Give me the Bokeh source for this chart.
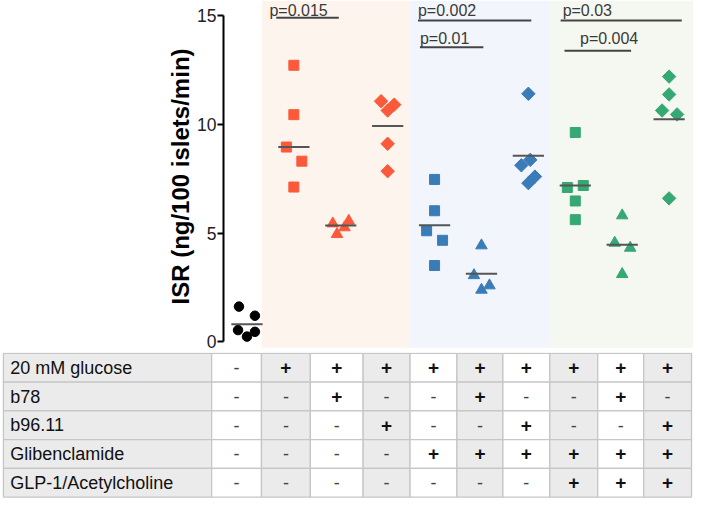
from bokeh.plotting import figure
from bokeh.models import Range1d, FixedTicker
from bokeh.layouts import column
from bokeh.embed import file_html
from bokeh.resources import INLINE
from bokeh.core.properties import value

# ---------------- data ----------------
ctrl      = [1.62, 1.20, 0.54, 0.24, 0.46]
glc       = [12.72, 10.45, 8.96, 8.31, 7.12]
glc_b78   = [5.44, 5.56, 4.95, 5.26]
glc_b96   = [11.07, 10.91, 10.64, 9.11, 7.85]
glib      = [7.47, 6.03, 5.11, 4.67, 3.51]
glib_b78  = [4.43, 3.06, 2.59, 2.39]
glib_b96  = [11.41, 8.37, 8.12, 7.60, 7.30]
glp       = [9.63, 7.10, 7.19, 6.48, 5.62]
glp_b78   = [5.81, 4.55, 4.32, 3.11]
glp_b96   = [12.20, 11.38, 10.64, 10.46, 6.60]
group_means = [0.81, 8.96, 5.35, 9.93, 5.36, 3.13, 8.56, 7.19, 4.47, 10.24]

p_labels = ["p=0.015", "p=0.002", "p=0.01", "p=0.03", "p=0.004"]
p_pairs = [(1, 2), (4, 6), (4, 5), (7, 9), (7, 8)]

y_ticks = [0, 5, 10, 15]
y_label = "ISR (ng/100 islets/min)"

row_labels = ["20 mM glucose", "b78", "b96.11", "Glibenclamide", "GLP-1/Acetylcholine"]
row_glucose = ["-", "+", "+", "+", "+", "+", "+", "+", "+", "+"]
row_b78     = ["-", "-", "+", "-", "-", "+", "-", "-", "+", "-"]
row_b96     = ["-", "-", "-", "+", "-", "-", "+", "-", "-", "+"]
row_glib    = ["-", "-", "-", "-", "+", "+", "+", "+", "+", "+"]
row_glp     = ["-", "-", "-", "-", "-", "-", "-", "+", "+", "+"]

# ---------------- layout / style ----------------
SX = 693 / 709
SY = 499 / 515
FONT = value("Liberation Sans")

groups = [ctrl, glc, glc_b78, glc_b96, glib, glib_b78, glib_b96, glp, glp_b78, glp_b96]
jitter = [
    [-0.17, 0.17, -0.19, 0.0, 0.17],
    [0.0, 0.0, -0.16, 0.17, 0.0],
    [-0.17, 0.17, -0.08, 0.08],
    [-0.14, 0.14, 0.0, 0.0, 0.0],
    [0.0, 0.0, -0.17, 0.17, 0.0],
    [0.0, -0.16, 0.17, 0.0],
    [0.0, 0.04, -0.15, 0.14, 0.0],
    [0.0, -0.17, 0.17, 0.0, 0.0],
    [0.0, -0.16, 0.17, 0.0],
    [0.0, 0.0, -0.15, 0.17, 0.0],
]
ORANGE, BLUE, GREEN = "#FA5A3A", "#3A7CB8", "#35A873"
colors = ["#000000", ORANGE, ORANGE, ORANGE, BLUE, BLUE, BLUE, GREEN, GREEN, GREEN]
shapes = ["circle", "square", "triangle", "diamond"] + ["square", "triangle", "diamond"] * 2

def px_to_u(px):
    return (px - 252.0) / 48.0

SPLIT = 363  # reference pixel row where the plot ends and the table begins
H1 = round(SPLIT * SY)
H2 = 499 - H1
W = 693
Y_BOTTOM = (352 - SPLIT) / 22.42
Y_TOP = 352 / 22.42
BAND_BOTTOM = (352 - 358) / 22.42

p = figure(width=W, height=H1, x_range=Range1d(-0.5, 9.52), y_range=Range1d(Y_BOTTOM, Y_TOP),
           output_backend="svg", toolbar_location=None, x_axis_location=None,
           min_border_left=round(228 * SX), min_border_right=0, min_border_top=0, min_border_bottom=0)
p.frame_align = False
p.grid.visible = False
p.outline_line_color = None

# shaded bands
band_px = [267, 419, 562, 709]
p.quad(left=[px_to_u(v) for v in band_px[:-1]], right=[px_to_u(v) for v in band_px[1:]],
       bottom=BAND_BOTTOM, top=Y_TOP, fill_color=["#FDF4EE", "#F2F5FB", "#F5F8F0"], line_color=None)

# points
for i, (vals, jit) in enumerate(zip(groups, jitter)):
    xs = [i + j for j in jit]
    shp = shapes[i]
    if shp == "diamond":
        p.scatter(xs, vals, marker="square", size=9.5, angle=0.785398, color=colors[i])
    elif shp == "triangle":
        p.scatter(xs, vals, marker="triangle", size=11.5, color=colors[i])
    elif shp == "square":
        p.scatter(xs, vals, marker="square", size=10, color=colors[i])
    else:
        p.scatter(xs, vals, marker="circle", size=9.5, color=colors[i])

# mean bars
p.segment(x0=[i - 0.333 for i in range(10)], x1=[i + 0.333 for i in range(10)],
          y0=group_means, y1=group_means, line_color="#555555", line_width=2)

# significance brackets
line_off = [(-0.375, -0.042), (-0.354, 0.0625), (-0.3125, 0.04), (-0.3125, 0.27), (-0.23, 0.19)]
text_off = [-0.521, -0.354, -0.3125, -0.27, 0.10]
line_y = [14.91, 14.78, 13.55, 14.78, 13.39]
text_y = [15.22, 15.25, 13.93, 15.25, 13.93]
p.segment(x0=[a + o[0] for (a, b), o in zip(p_pairs, line_off)],
          x1=[b + o[1] for (a, b), o in zip(p_pairs, line_off)],
          y0=line_y, y1=line_y, line_color="#444444", line_width=2)
p.text(x=[a + o for (a, b), o in zip(p_pairs, text_off)], y=text_y, text=p_labels,
       text_font=FONT, text_font_size="16px", text_color="#3A3A3A",
       text_align="left", text_baseline="alphabetic")

ax = p.yaxis[0]
ax.ticker = FixedTicker(ticks=y_ticks)
ax.bounds = (0, 15)
ax.axis_line_width = 2
ax.axis_line_color = "#000000"
ax.major_tick_line_width = 2
ax.major_tick_line_color = "#000000"
ax.major_tick_out = 6
ax.major_tick_in = 0
ax.minor_tick_out = 0
ax.minor_tick_in = 0
ax.major_label_text_font = "Liberation Sans"
ax.major_label_text_font_size = "17.5px"
ax.major_label_text_color = "#222222"
ax.major_label_standoff = 1
ax.axis_label = y_label
ax.axis_label_text_font = "Liberation Sans"
ax.axis_label_text_font_size = "24px"
ax.axis_label_text_font_style = "bold"
ax.axis_label_text_color = "#000000"
ax.axis_label_standoff = 0

# ---------------- table ----------------
t = figure(width=W, height=H2, x_range=Range1d(0, 709), y_range=Range1d(515, SPLIT),
           output_backend="svg", toolbar_location=None, x_axis_location=None, y_axis_location=None,
           min_border_left=0, min_border_right=0, min_border_top=0, min_border_bottom=0)
t.frame_align = False
t.grid.visible = False
t.outline_line_color = None

col_edges = [3, 216, 267, 317, 371, 419, 467, 514, 562, 611, 658, 707]
row_edges = [364, 393.7, 423.4, 453.1, 482.8, 512.5]
rows = [row_glucose, row_b78, row_b96, row_glib, row_glp]
GRAY, WHITE = "#EBEBEB", "#FFFFFF"
col_fill = [GRAY] + [WHITE if k % 2 == 0 else GRAY for k in range(10)]

L, R, B, T, F = [], [], [], [], []
for r in range(5):
    for c in range(11):
        L.append(col_edges[c]); R.append(col_edges[c + 1])
        T.append(row_edges[r]); B.append(row_edges[r + 1])
        F.append(col_fill[c])
t.quad(left=L, right=R, top=T, bottom=B, fill_color=F, line_color="#C6C6C6", line_width=1.3)

row_mid = [(row_edges[r] + row_edges[r + 1]) / 2 for r in range(5)]
t.text(x=[10] * 5, y=row_mid, text=row_labels, text_font=FONT, text_font_size="18px",
       text_color="#111111", text_align="left", text_baseline="middle")

plus_x, plus_y, minus_x, minus_y = [], [], [], []
for r, row in enumerate(rows):
    for c, s in enumerate(row):
        cx = (col_edges[c + 1] + col_edges[c + 2]) / 2
        if s == "+":
            plus_x.append(cx); plus_y.append(row_mid[r])
        else:
            minus_x.append(cx); minus_y.append(row_mid[r])
t.text(x=plus_x, y=plus_y, text=["+"] * len(plus_x), text_font=FONT, text_font_size="19px",
       text_font_style="bold", text_color="#111111", text_align="center", text_baseline="middle")
t.text(x=minus_x, y=minus_y, text=["-"] * len(minus_x), text_font=FONT, text_font_size="18px",
       text_color="#444444", text_align="center", text_baseline="middle")

layout = column(p, t, spacing=0)
open("out.html", "w").write(file_html(layout, INLINE))
